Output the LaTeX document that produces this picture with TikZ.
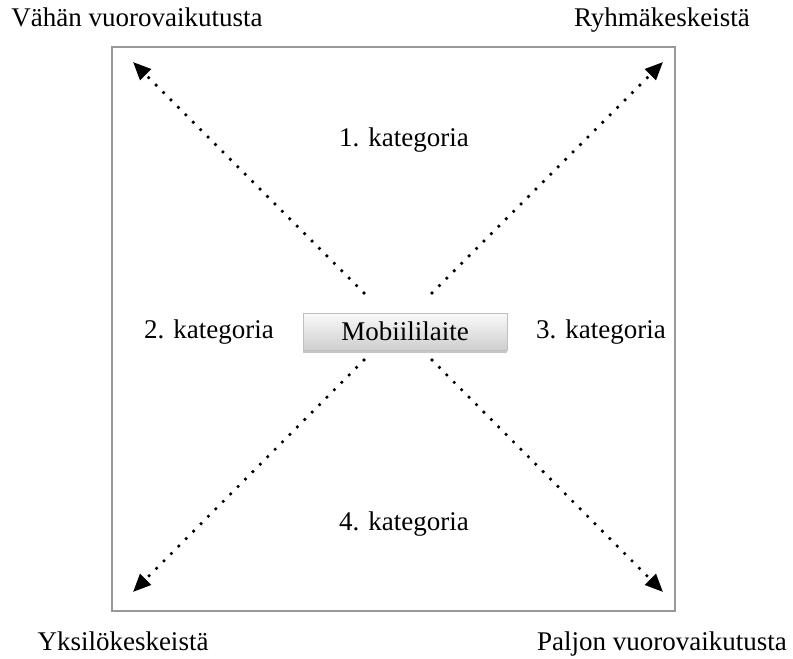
\documentclass[tikz,border=0pt]{standalone}
\usepackage{fontspec}
\setmainfont{Liberation Serif}
\usetikzlibrary{arrows.meta,shadows}

\begin{document}
\begin{tikzpicture}[x=1pt,y=-1pt]
    \tikzstyle{lbl}=[anchor=base,inner sep=0pt,font=\fontsize{27}{31}\selectfont]
    \tikzstyle{dots}=[line width=3.6pt,line cap=round,dash pattern=on 0pt off 10.5pt,
      -{Triangle[length=18pt,width=15pt]}]
    \useasboundingbox (0,0) rectangle (793,659);
    \draw[gray!80,line width=2pt] (112,47) rectangle (675,611);
    \node[draw=gray!50,line width=0.4pt,minimum width=204pt,minimum height=37pt,
      top color=gray!4,bottom color=gray!38,font=\fontsize{27}{31}\selectfont,
      drop shadow={shadow xshift=0pt,shadow yshift=-2.5pt,opacity=.45,fill=gray}]
      at (405,331.5) (mob) {Mobiililaite};
    % corners of the arrows
    \foreach \n/\x/\y in {tl/133/62,tr/663/62,bl/133/592,br/663/592}
      {\coordinate (\n) at (\x,\y);}
    \foreach \n/\x/\y in {stl/364/293,str/432/293,sbl/364/360,sbr/432/360}
      {\coordinate (\n) at (\x,\y);}
    \foreach \i/\j in {stl/tl,str/tr,sbl/bl,sbr/br}{
      \draw[dots] (\i) -- (\j);
    }
    % texts
    \node[lbl] at (137,26) (few) {Vähän vuorovaikutusta};
    \node[lbl] at (662,26) (group) {Ryhmäkeskeistä};
    \node[lbl] at (123,650) (indiv) {Yksilökeskeistä};
    \node[lbl] at (662,650) (many) {Paljon vuorovaikutusta};
    \node[lbl] at (404,146) (k1) {1. kategoria};
    \node[lbl] at (209,338) (k2) {2. kategoria};
    \node[lbl] at (601,338) (k3) {3. kategoria};
    \node[lbl] at (404,530) (k4) {4. kategoria};
  \end{tikzpicture}
\end{document}
